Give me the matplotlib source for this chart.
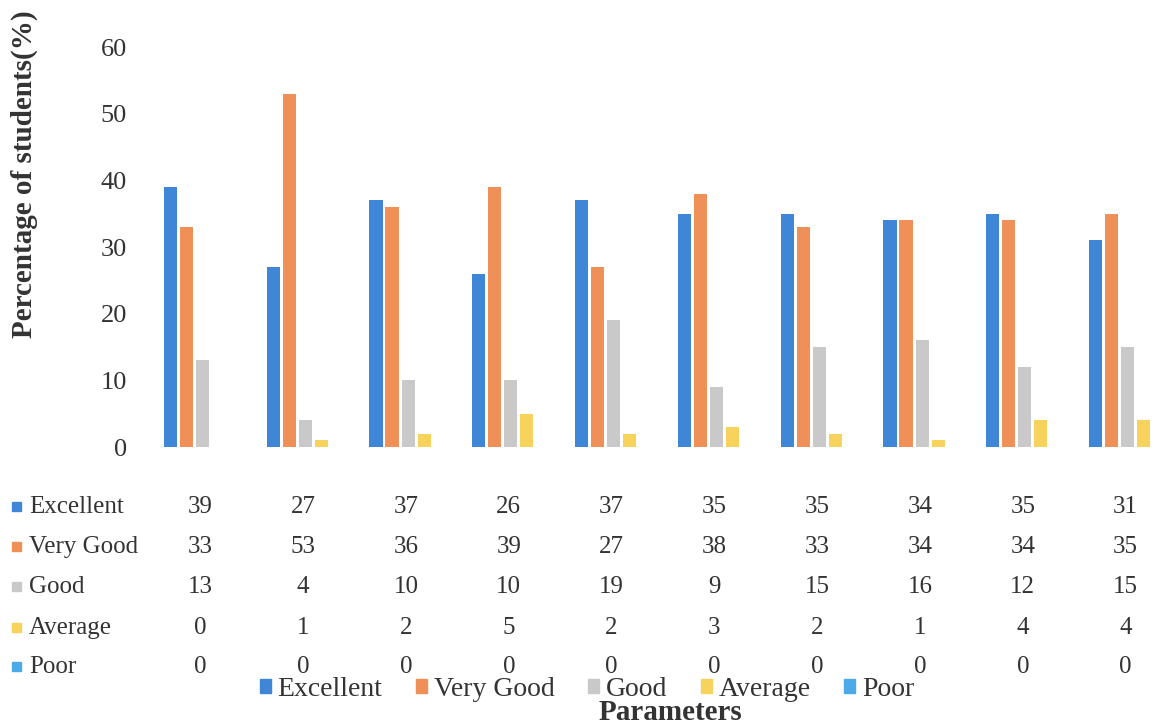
import matplotlib
matplotlib.use("Agg")
import matplotlib.pyplot as plt
from matplotlib.patches import Rectangle
from matplotlib.transforms import blended_transform_factory
import numpy as np

series_names = ["Excellent", "Very Good", "Good", "Average", "Poor"]
excellent = [39, 27, 37, 26, 37, 35, 35, 34, 35, 31]
very_good = [33, 53, 36, 39, 27, 38, 33, 34, 34, 35]
good = [13, 4, 10, 10, 19, 9, 15, 16, 12, 15]
average = [0, 1, 2, 5, 2, 3, 2, 1, 4, 4]
poor = [0, 0, 0, 0, 0, 0, 0, 0, 0, 0]
yticks = [0, 10, 20, 30, 40, 50, 60]

data = [excellent, very_good, good, average, poor]
colors = ["#3F86D6", "#EE9058", "#C9C9C9", "#F7D35E", "#4DAAE8"]

plt.rcParams['font.family'] = ['Liberation Serif', 'DejaVu Serif']

W, H = 1166, 724
fig = plt.figure(figsize=(W / 100, H / 100), dpi=100)
# axes: x from 149 to 1177 px, y from 447 (0) to 47 (60)
ax = fig.add_axes([149 / W, (H - 447) / H, 1028 / W, 400 / H])
n = len(excellent)
x = np.arange(n)
slot = 0.156
bw = 0.127
for i, (vals, c) in enumerate(zip(data, colors)):
    ax.bar(x + (i - 2) * slot + 0.02, vals, width=bw, color=c, label=series_names[i])
ax.set_xlim(-0.5, n - 0.5)
ax.set_ylim(0, 60)
ax.set_yticks(yticks)
ax.set_xticks([])
ax.tick_params(axis='y', length=0, labelsize=19, pad=16, colors='#333333')
for s in ax.spines.values():
    s.set_visible(False)

fig.text(24 / W, 1 - 174 / H, "Percentage of students(%)", rotation=90, ha='center', va='center',
         fontsize=21, fontweight='bold', color='#333333')

# data table
trans = blended_transform_factory(ax.transData, fig.transFigure)
row_y = [507, 547, 587, 628, 667]
for r, (name, vals, c) in enumerate(zip(series_names, data, colors)):
    yf = 1 - row_y[r] / H
    fig.patches.append(Rectangle((12 / W, yf - 4 / H), 9 / W, 9 / H, transform=fig.transFigure,
                                 color=c, figure=fig))
    fig.text(29 / W, yf, name, ha='left', va='center', fontsize=18, color='#333333')
    for j, v in enumerate(vals):
        ax.text(j, yf, str(v), transform=trans, ha='center', va='center', fontsize=18,
                color='#333333', clip_on=False)

handles = [Rectangle((0, 0), 1, 1, color=c) for c in colors]
fig.legend(handles, series_names, loc='center', bbox_to_anchor=(587 / W, 1 - 689 / H), ncol=5,
           frameon=False, fontsize=20, handlelength=0.4, handleheight=0.4, handletextpad=0.25,
           columnspacing=1.2, labelcolor='#333333', borderaxespad=0, borderpad=0)
fig.text(670 / W, 1 - 712 / H, "Parameters", ha='center', va='center', fontsize=21,
         fontweight='bold', color='#333333')

fig.savefig("out.png", dpi=100, facecolor='white')
